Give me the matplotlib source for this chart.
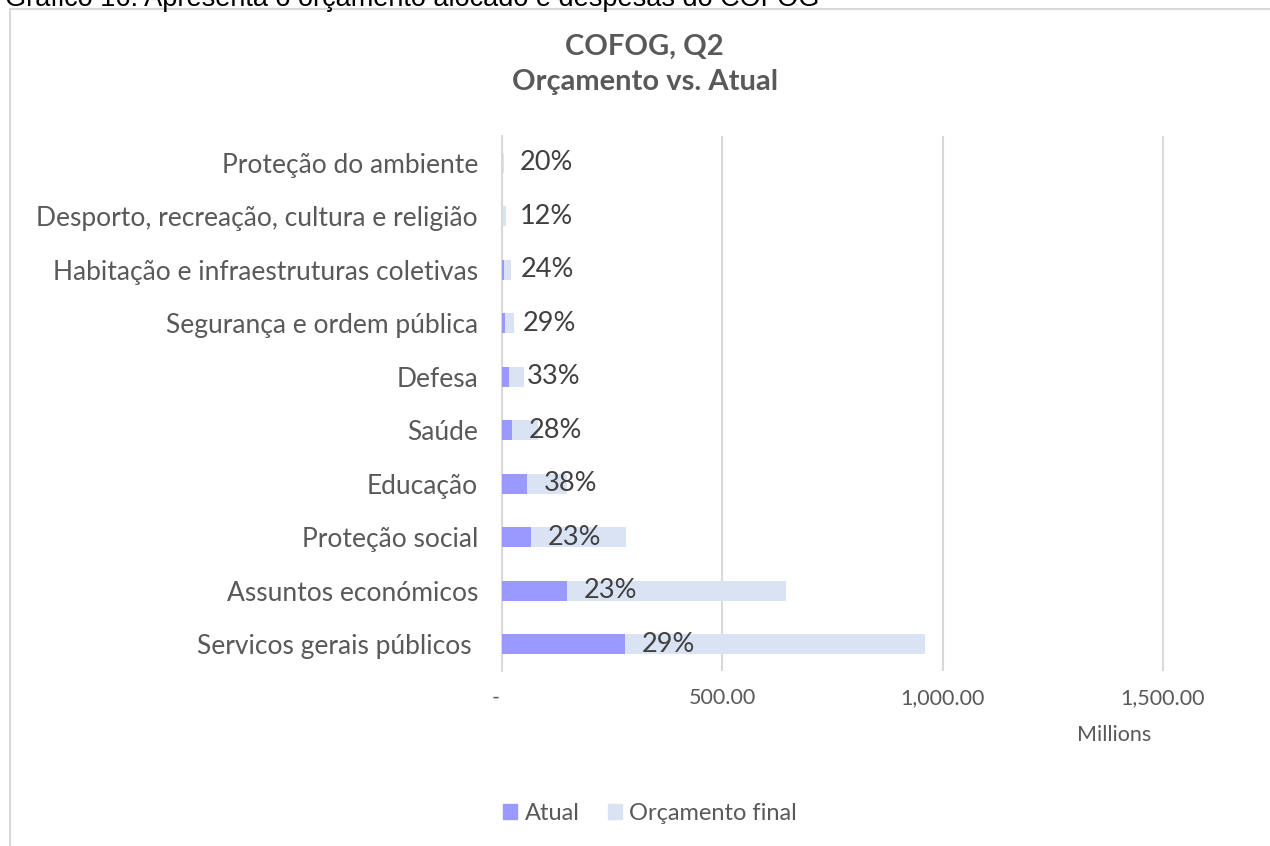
import matplotlib
matplotlib.use('Agg')
import matplotlib.pyplot as plt
from matplotlib.patches import Rectangle, Patch

# categories from bottom to top, values in millions
categories = [
    "Servicos gerais públicos ",
    "Assuntos económicos",
    "Proteção social",
    "Educação",
    "Saúde",
    "Defesa",
    "Segurança e ordem pública",
    "Habitação e infraestruturas coletivas",
    "Desporto, recreação, cultura e religião",
    "Proteção do ambiente",
]
orcamento_final = [961, 645, 282, 147, 82, 51, 27, 21, 8, 3.5]
atual = [279, 147, 65, 56, 23, 17, 7.8, 5.0, 0.95, 0.7]
xticks = [0, 500, 1000, 1500]
xtick_labels = ["-  ", "500.00", "1,000.00", "1,500.00"]

c_atual = "#9999FF"
c_orc = "#DAE3F3"
grey = "#595959"
grid = "#D9D9D9"

plt.rcParams['font.family'] = ['Lato', 'DejaVu Sans']

W, H = 1270, 846
PT = 72 / 100  # points per pixel at dpi 100
fig = plt.figure(figsize=(W / 100, H / 100), dpi=100)
fig.patch.set_facecolor("white")

# chart border (cropped at right and bottom)
fig.patches.append(Rectangle((10 / W, -0.1), 1.2, 1.1 - 9 / H, transform=fig.transFigure,
                             fill=False, edgecolor=grid, linewidth=1.5, zorder=0))

# caption above the chart, mostly cut off like in the source
fig.text(5 / W, 1 - 6 / H, "Gráfico 16: Apresenta o orçamento alocado e despesas do COFOG",
         family=['Liberation Sans'], fontsize=19.5, ha='left', va='baseline', color='black')

ax = fig.add_axes([502 / W, 1 - 671 / H, 1 - 502 / W, (671 - 136) / H])
y = list(range(len(categories)))
ax.barh(y, orcamento_final, height=0.37, color=c_orc, zorder=2)
ax.barh(y, atual, height=0.37, color=c_atual, zorder=3)

x_per_px = 1 / 0.4405
for yi, a, o in zip(y, atual, orcamento_final):
    ax.text(a + 17 * x_per_px, yi, f"{a / o:.0%}", ha='left', va='center',
            fontsize=19.5, color="#404040", zorder=4)

ax.set_xlim(0, (W - 502) * x_per_px)
ax.set_ylim(-0.5, len(categories) - 0.5)
ax.set_yticks(y)
ax.set_yticklabels(categories, fontsize=19, color=grey)
ax.set_xticks(xticks)
ax.set_xticklabels(xtick_labels, fontsize=15.5, color=grey)
ax.tick_params(axis='y', length=0, pad=24 * PT)
ax.tick_params(axis='x', length=0, pad=17 * PT)
ax.grid(axis='x', color=grid, linewidth=1.5, zorder=0)
ax.set_axisbelow(True)
for s in ['top', 'right', 'bottom']:
    ax.spines[s].set_visible(False)
ax.spines['left'].set_color(grid)
ax.spines['left'].set_linewidth(1.5)

fig.text(1114 / W, 1 - 735 / H, "Millions", ha='center', va='center', fontsize=15.5, color=grey)

fig.text(644 / W, 1 - 47 / H, "COFOG, Q2", ha='center', va='center', fontsize=21,
         fontweight='bold', color=grey)
fig.text(645 / W, 1 - 82 / H, "Orçamento vs. Atual", ha='center', va='center', fontsize=21,
         fontweight='bold', color=grey)

handles = [Patch(color=c_atual, label="Atual"), Patch(color=c_orc, label="Orçamento final")]
fig.legend(handles=handles, loc='center', bbox_to_anchor=(650 / W, 1 - 813 / H), ncol=2,
           frameon=False, fontsize=17, handlelength=0.6, handleheight=0.6,
           handletextpad=0.3, columnspacing=1.2, labelcolor=grey)

fig.savefig("out.png", dpi=100)
